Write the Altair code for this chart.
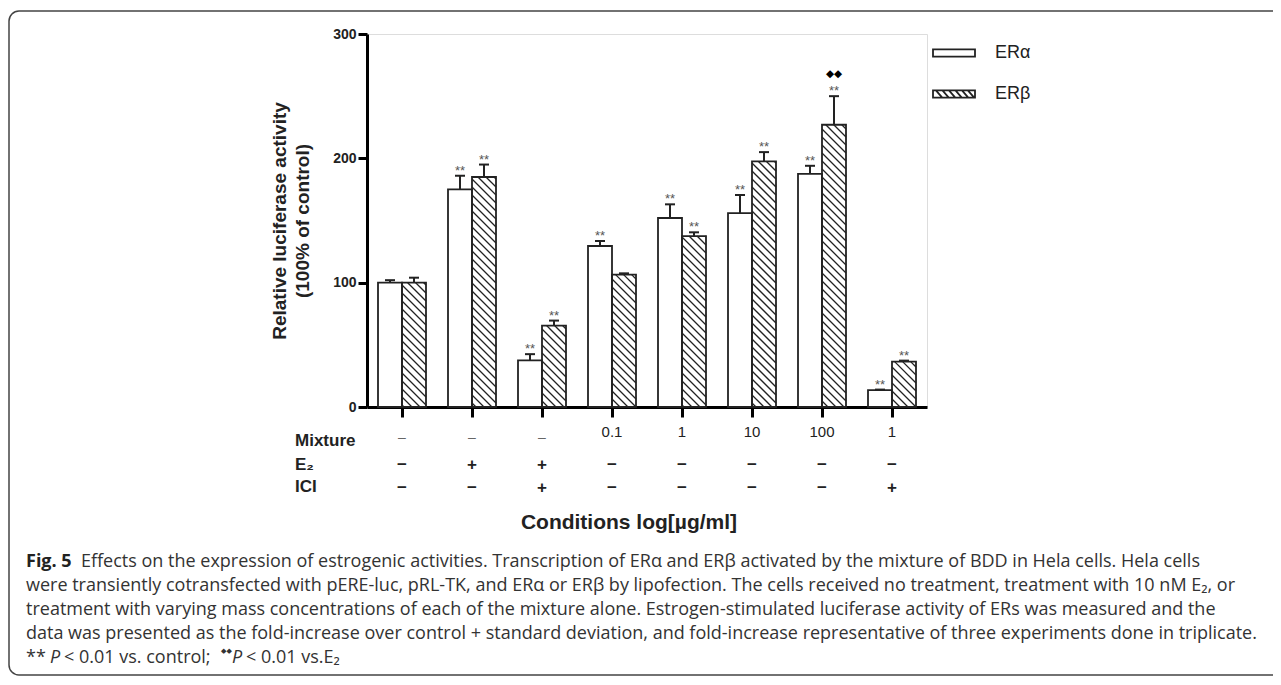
import altair as alt
import pandas as pd

# ---------------- data ----------------
groups = [0, 1, 2, 3, 4, 5, 6, 7]
er_alpha = [100, 175, 37.5, 129.5, 152, 156, 187.5, 13.5]
er_alpha_err = [2, 11, 5, 4, 11, 14.5, 6.5, 0.5]
er_beta = [100, 185, 65.5, 106.5, 137.5, 197.5, 227, 36.5]
er_beta_err = [4, 10, 4, 1, 3, 7.5, 23, 0.8]
alpha_sig = ["", "**", "**", "**", "**", "**", "**", "**"]
beta_sig = ["", "**", "**", "", "**", "**", "**", "**"]
beta_sig2 = ["", "", "", "", "", "", "◆◆", ""]
series = ["ERα", "ERβ"]

mixture_row = ["–", "–", "–", "0.1", "1", "10", "100", "1"]
e2_row = ["−", "+", "+", "−", "−", "−", "−", "−"]
ici_row = ["−", "−", "+", "−", "−", "−", "−", "+"]
row_names = ["Mixture", "E₂", "ICI"]

caption_lines = [
    "Effects on the expression of estrogenic activities. Transcription of ERα and ERβ activated by the mixture of BDD in Hela cells. Hela cells",
    "were transiently cotransfected with pERE-luc, pRL-TK, and ERα or ERβ by lipofection. The cells received no treatment, treatment with 10 nM E₂, or",
    "treatment with varying mass concentrations of each of the mixture alone. Estrogen-stimulated luciferase activity of ERs was measured and the",
    "data was presented as the fold-increase over control + standard deviation, and fold-increase representative of three experiments done in triplicate.",
]

# ---------------- geometry ----------------
W, H = 560, 373
XMIN, XMAX = -0.5, 7.5
YMAX = 300
HALF = 24 / 70.0   # bar width in group units
CAP = 5 / 70.0

def px_x(v):
    return (v - XMIN) / (XMAX - XMIN) * W

def px_y(v):
    return H - v / YMAX * H

def dx(p):
    return p / W * (XMAX - XMIN) + XMIN

def dy(p):
    return (H - p) / H * YMAX

bars = []
for i, g in enumerate(groups):
    bars.append(dict(g=g, s="ERα", x0=g - HALF, x1=g, v=er_alpha[i], e=er_alpha[i] + er_alpha_err[i],
                     xc=g - HALF / 2, c0=g - HALF / 2 - CAP, c1=g - HALF / 2 + CAP,
                     sig=alpha_sig[i], sig2=""))
    bars.append(dict(g=g, s="ERβ", x0=g, x1=g + HALF, v=er_beta[i], e=er_beta[i] + er_beta_err[i],
                     xc=g + HALF / 2, c0=g + HALF / 2 - CAP, c1=g + HALF / 2 + CAP,
                     sig=beta_sig[i], sig2=beta_sig2[i]))
bdf = pd.DataFrame(bars)

# hatch lines ("\" direction) clipped to each ERβ bar, computed in pixel space then mapped back
SP = 8.0
hatch = []
for b in bars:
    if b["s"] != "ERβ":
        continue
    X0, X1 = px_x(b["x0"]), px_x(b["x1"])
    YT, YB = px_y(b["v"]), px_y(0)
    k0 = int((YT - X1) // SP) - 1
    k1 = int((YB - X0) // SP) + 1
    for k in range(k0, k1 + 1):
        c = k * SP  # y = x + c
        xs_ = max(X0, YT - c)
        xe_ = min(X1, YB - c)
        if xe_ - xs_ > 0.5:
            hatch.append(dict(hx0=dx(xs_), hy0=dy(xs_ + c), hx1=dx(xe_), hy1=dy(xe_ + c)))
hdf = pd.DataFrame(hatch)

tdf = pd.DataFrame(dict(g=groups, mix=mixture_row, e2=e2_row, ici=ici_row))

xs = alt.Scale(domain=[XMIN, XMAX], nice=False, zero=False)
ys = alt.Scale(domain=[0, YMAX], nice=False)

FONT = "Liberation Sans"

alpha_path = "M-1,-0.17 L1,-0.17 L1,0.17 L-1,0.17 Z"
beta_path = alpha_path + "".join(
    f" M{x:.3f},-0.17 L{x + 0.3:.3f},0.17" for x in [-0.86, -0.55, -0.24, 0.07, 0.38, 0.66]
)

base = alt.Chart(bdf)

bar_fill = base.mark_rect(fill="white", stroke=None).encode(
    x=alt.X("x0:Q", scale=xs,
            axis=alt.Axis(values=groups, labels=False, title=None, domainWidth=3, domainColor="black",
                          tickWidth=3, tickSize=10, tickColor="black", grid=False)),
    x2="x1:Q",
    y=alt.Y("v:Q", scale=ys,
            axis=alt.Axis(values=[0, 100, 200, 300], title=["Relative luciferase activity", "(100% of control)"],
                          titleFont=FONT, titleFontSize=19, titleFontWeight="bold", titleColor="#222",
                          titlePadding=20, titleLineHeight=23,
                          labelFont=FONT, labelFontSize=14, labelFontWeight="bold", labelColor="#222",
                          labelPadding=2, domainWidth=3, domainColor="black",
                          tickWidth=3, tickSize=9, tickColor="black", grid=False)),
    y2=alt.datum(0),
)

legend_pts = base.mark_point(opacity=0, filled=False).encode(
    x=alt.X("xc:Q", scale=xs), y=alt.Y("v:Q", scale=ys),
    shape=alt.Shape("s:N", scale=alt.Scale(domain=series, range=[alpha_path, beta_path]),
                    legend=alt.Legend(title=None, orient="none", legendX=565, legendY=-3, padding=0,
                                      symbolSize=1764, symbolStrokeColor="#222", symbolStrokeWidth=1.8,
                                      symbolFillColor="white", symbolOpacity=1, labelFont=FONT,
                                      labelFontSize=18, labelColor="#222", labelOffset=19)),
)

hatch_layer = alt.Chart(hdf).mark_rule(color="#222", strokeWidth=1.3).encode(
    x=alt.X("hx0:Q", scale=xs), y=alt.Y("hy0:Q", scale=ys),
    x2="hx1:Q", y2="hy1:Q",
)

bar_outline = base.mark_rect(fill=None, stroke="#222", strokeWidth=1.8).encode(
    x=alt.X("x0:Q", scale=xs), x2="x1:Q", y=alt.Y("v:Q", scale=ys), y2=alt.datum(0),
)

err_rule = base.mark_rule(color="#222", strokeWidth=2).encode(
    x=alt.X("xc:Q", scale=xs), y=alt.Y("v:Q", scale=ys), y2="e:Q",
)
err_cap = base.mark_rule(color="#222", strokeWidth=2).encode(
    x=alt.X("c0:Q", scale=xs), x2="c1:Q", y=alt.Y("e:Q", scale=ys),
)
sig = base.mark_text(font=FONT, fontSize=13, color="#555", baseline="alphabetic", dy=-1).encode(
    x=alt.X("xc:Q", scale=xs), y=alt.Y("e:Q", scale=ys), text="sig:N",
)
sig2 = base.mark_text(font="DejaVu Sans", fontSize=10.5, color="black", baseline="alphabetic", dy=-19).encode(
    x=alt.X("xc:Q", scale=xs), y=alt.Y("e:Q", scale=ys), text="sig2:N",
)

tab = alt.Chart(tdf)
mix_num = tab.transform_filter("datum.mix != '–'").mark_text(
    font=FONT, fontSize=15, color="#222", baseline="middle").encode(
    x=alt.X("g:Q", scale=xs), y=alt.value(H + 25), text="mix:N")
mix_dash = tab.transform_filter("datum.mix == '–'").mark_text(
    font=FONT, fontSize=14, color="#666", baseline="middle").encode(
    x=alt.X("g:Q", scale=xs), y=alt.value(H + 31), text="mix:N")
e2_t = tab.mark_text(font=FONT, fontSize=17, fontWeight="bold", color="#222", baseline="middle").encode(
    x=alt.X("g:Q", scale=xs), y=alt.value(H + 58), text="e2:N")
ici_t = tab.mark_text(font=FONT, fontSize=17, fontWeight="bold", color="#222", baseline="middle").encode(
    x=alt.X("g:Q", scale=xs), y=alt.value(H + 81), text="ici:N")

rdf = pd.DataFrame(dict(name=row_names, yy=[H + 34, H + 58, H + 80]))
rows_t = alt.Chart(rdf).mark_text(font=FONT, fontSize=17, fontWeight="bold", color="#222",
                                  align="left", baseline="middle").encode(
    x=alt.value(-72), y=alt.Y("yy:Q", scale=None), text="name:N")

one = pd.DataFrame(dict(a=[0]))
xtitle = alt.Chart(one).mark_text(text="Conditions log[µg/ml]", font=FONT, fontSize=21, fontWeight="bold",
                                  color="#222", baseline="middle").encode(
    x=alt.value(262), y=alt.value(H + 116))

frame = alt.Chart(one).mark_rect(fill=None, stroke="#444", strokeWidth=1.5, cornerRadius=10).encode(
    x=alt.value(-358), x2=alt.value(960), y=alt.value(-23), y2=alt.value(H + 268))

CX = -341
CY = H + 155
LS = 24
CAPF = "Open Sans"
CFS = 18.0
cdf = pd.DataFrame(dict(t=caption_lines, yy=[CY + LS * i for i in range(4)],
                        xx=[CX + 55, CX, CX, CX]))
cap_t = alt.Chart(cdf).mark_text(font=CAPF, fontSize=CFS, color="#333", align="left", baseline="middle").encode(
    x=alt.X("xx:Q", scale=None), y=alt.Y("yy:Q", scale=None), text="t:N")
fig_t = alt.Chart(one).mark_text(text="Fig. 5", font=CAPF, fontSize=CFS, fontWeight="bold", color="#222",
                                 align="left", baseline="middle").encode(x=alt.value(CX), y=alt.value(CY))
last_y = CY + LS * 4
def seg(txt, x, style="normal", font=CAPF, size=CFS, yoff=0):
    return alt.Chart(one).mark_text(text=txt, font=font, fontSize=size, fontStyle=style, color="#333",
                                    align="left", baseline="middle").encode(
        x=alt.value(CX + x), y=alt.value(last_y + yoff))
l5 = [
    seg("**", 0),
    seg("P", 24, "italic"),
    seg("< 0.01 vs. control;", 38),
    seg("◆◆", 195, font="DejaVu Sans", size=7, yoff=-7),
    seg("P", 206, "italic"),
    seg("< 0.01 vs.E₂", 220),
]

chart = alt.layer(
    frame, bar_fill, hatch_layer, bar_outline, err_rule, err_cap, sig, sig2, legend_pts,
    mix_num, mix_dash, e2_t, ici_t, rows_t, xtitle, cap_t, fig_t, *l5,
).properties(
    width=W, height=H,
    autosize=alt.AutoSizeParams(type="none"),
    padding={"left": 359, "top": 26, "right": 346, "bottom": 269},
).configure_view(stroke=None).configure(background="white").configure_legend(rowPadding=10)

chart.save("out.html", embed_options={"renderer": "svg", "actions": False})
